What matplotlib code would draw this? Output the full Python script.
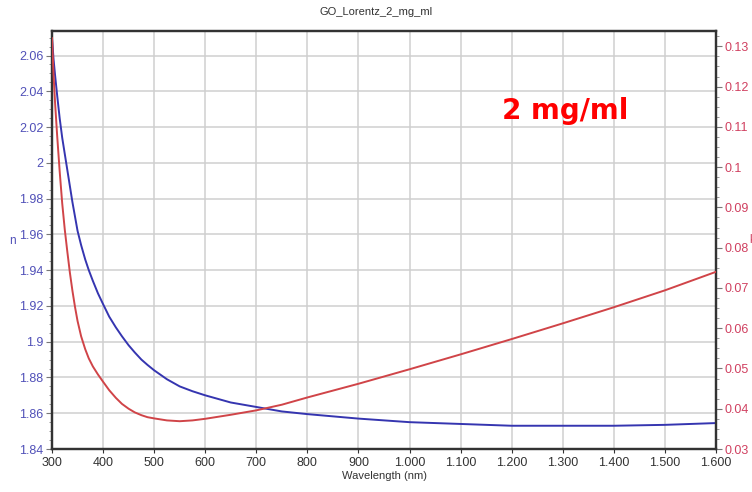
import matplotlib
matplotlib.use("Agg")
import matplotlib.pyplot as plt
from matplotlib.ticker import MultipleLocator, FuncFormatter

# Lorentz fit for GO, 2 mg/ml: refractive index n and extinction k
wavelength = [300, 303, 306, 310, 315, 320, 325, 330, 335, 340, 345, 350, 357, 365, 372,
              380, 390, 400, 412, 425, 437, 450, 462, 475, 487, 500, 525, 550, 575, 600,
              650, 700, 750, 800, 900, 1000, 1100, 1200, 1300, 1400, 1500, 1600]
n_vals = [2.070, 2.058, 2.049, 2.038, 2.025, 2.014, 2.005, 1.996, 1.987, 1.978, 1.970,
          1.962, 1.954, 1.946, 1.940, 1.934, 1.927, 1.921, 1.914, 1.908, 1.903, 1.898,
          1.894, 1.890, 1.887, 1.884, 1.879, 1.875, 1.8723, 1.870, 1.866, 1.8635, 1.861,
          1.8595, 1.857, 1.855, 1.854, 1.853, 1.853, 1.853, 1.8535, 1.8545]
k_vals = [0.132, 0.123, 0.116, 0.108, 0.099, 0.091, 0.0845, 0.079, 0.0738, 0.0693, 0.0653,
          0.0618, 0.058, 0.0548, 0.0525, 0.0505, 0.0485, 0.0467, 0.0446, 0.0427, 0.0412,
          0.0400, 0.0391, 0.0384, 0.0379, 0.0376, 0.0371, 0.0369, 0.0371, 0.0375, 0.0385,
          0.0396, 0.041, 0.0428, 0.0462, 0.0498, 0.0535, 0.0573, 0.0612, 0.0652, 0.0694,
          0.0740]

blue = "#3535b0"
red = "#d04448"
font = ["Liberation Sans", "DejaVu Sans"]

fig = plt.figure(figsize=(7.52, 4.92), dpi=100)
ax = fig.add_axes([52 / 752, 1 - 449 / 492, 664 / 752, 418 / 492])
ax2 = ax.twinx()

ax.plot(wavelength, n_vals, color=blue, lw=1.4, zorder=3)
ax2.plot(wavelength, k_vals, color=red, lw=1.4, zorder=3)

ax.set_xlim(300, 1600)
ax.set_ylim(1.84, 2.0737)
ax2.set_ylim(0.03, 0.1338)

ax.xaxis.set_major_locator(MultipleLocator(100))
ax.yaxis.set_major_locator(MultipleLocator(0.02))
ax.yaxis.set_minor_locator(MultipleLocator(0.005))
ax2.yaxis.set_major_locator(MultipleLocator(0.01))
ax2.yaxis.set_minor_locator(MultipleLocator(0.0025))

ax.xaxis.set_major_formatter(FuncFormatter(lambda v, p: f"{int(v):,}".replace(",", ".")))
ax.yaxis.set_major_formatter(FuncFormatter(lambda v, p: f"{v:.2f}".rstrip("0").rstrip(".")))
ax2.yaxis.set_major_formatter(FuncFormatter(lambda v, p: f"{v:.2f}".rstrip("0").rstrip(".")))

ax.grid(True, which="major", color="#cfcfcf", lw=1.1)
ax.set_axisbelow(True)

ax.tick_params(axis="x", labelsize=9, colors="#333333", length=3, pad=3)
ax.tick_params(axis="y", which="major", labelsize=9, labelcolor="#5050b8", color="#777777",
               length=4, pad=2)
ax.tick_params(axis="y", which="minor", color="#888888", length=2)
ax2.tick_params(axis="y", which="major", labelsize=9, labelcolor="#d04060", color="#777777",
                length=4, pad=2)
ax2.tick_params(axis="y", which="minor", color="#888888", length=2)
for lab in ax.get_xticklabels() + ax.get_yticklabels() + ax2.get_yticklabels():
    lab.set_family(font)

for a in (ax, ax2):
    for s in a.spines.values():
        s.set_color("#333333")
        s.set_linewidth(1.6)

ax.set_xlabel("Wavelength (nm)", fontsize=8, family=font, color="#333333", labelpad=1)
fig.text(0.5, 1 - 12 / 492, "GO_Lorentz_2_mg_ml", ha="center", va="center",
         fontsize=8, family=font, color="#333333")
fig.text(12 / 752, 1 - 241 / 492, "n", ha="center", va="center", fontsize=8.5,
         family=font, color="#5050b8")
# the k label sits at the very edge of the figure
fig.text(749 / 752, 1 - 240 / 492, "k", ha="left", va="center", fontsize=8.5,
         family=font, color="#d04060")

fig.text(565 / 752, 1 - 111 / 492, "2 mg/ml", ha="center", va="center", fontsize=20,
         fontweight="bold", color="#ff0000", zorder=5)

fig.savefig("out.png", dpi=100)
